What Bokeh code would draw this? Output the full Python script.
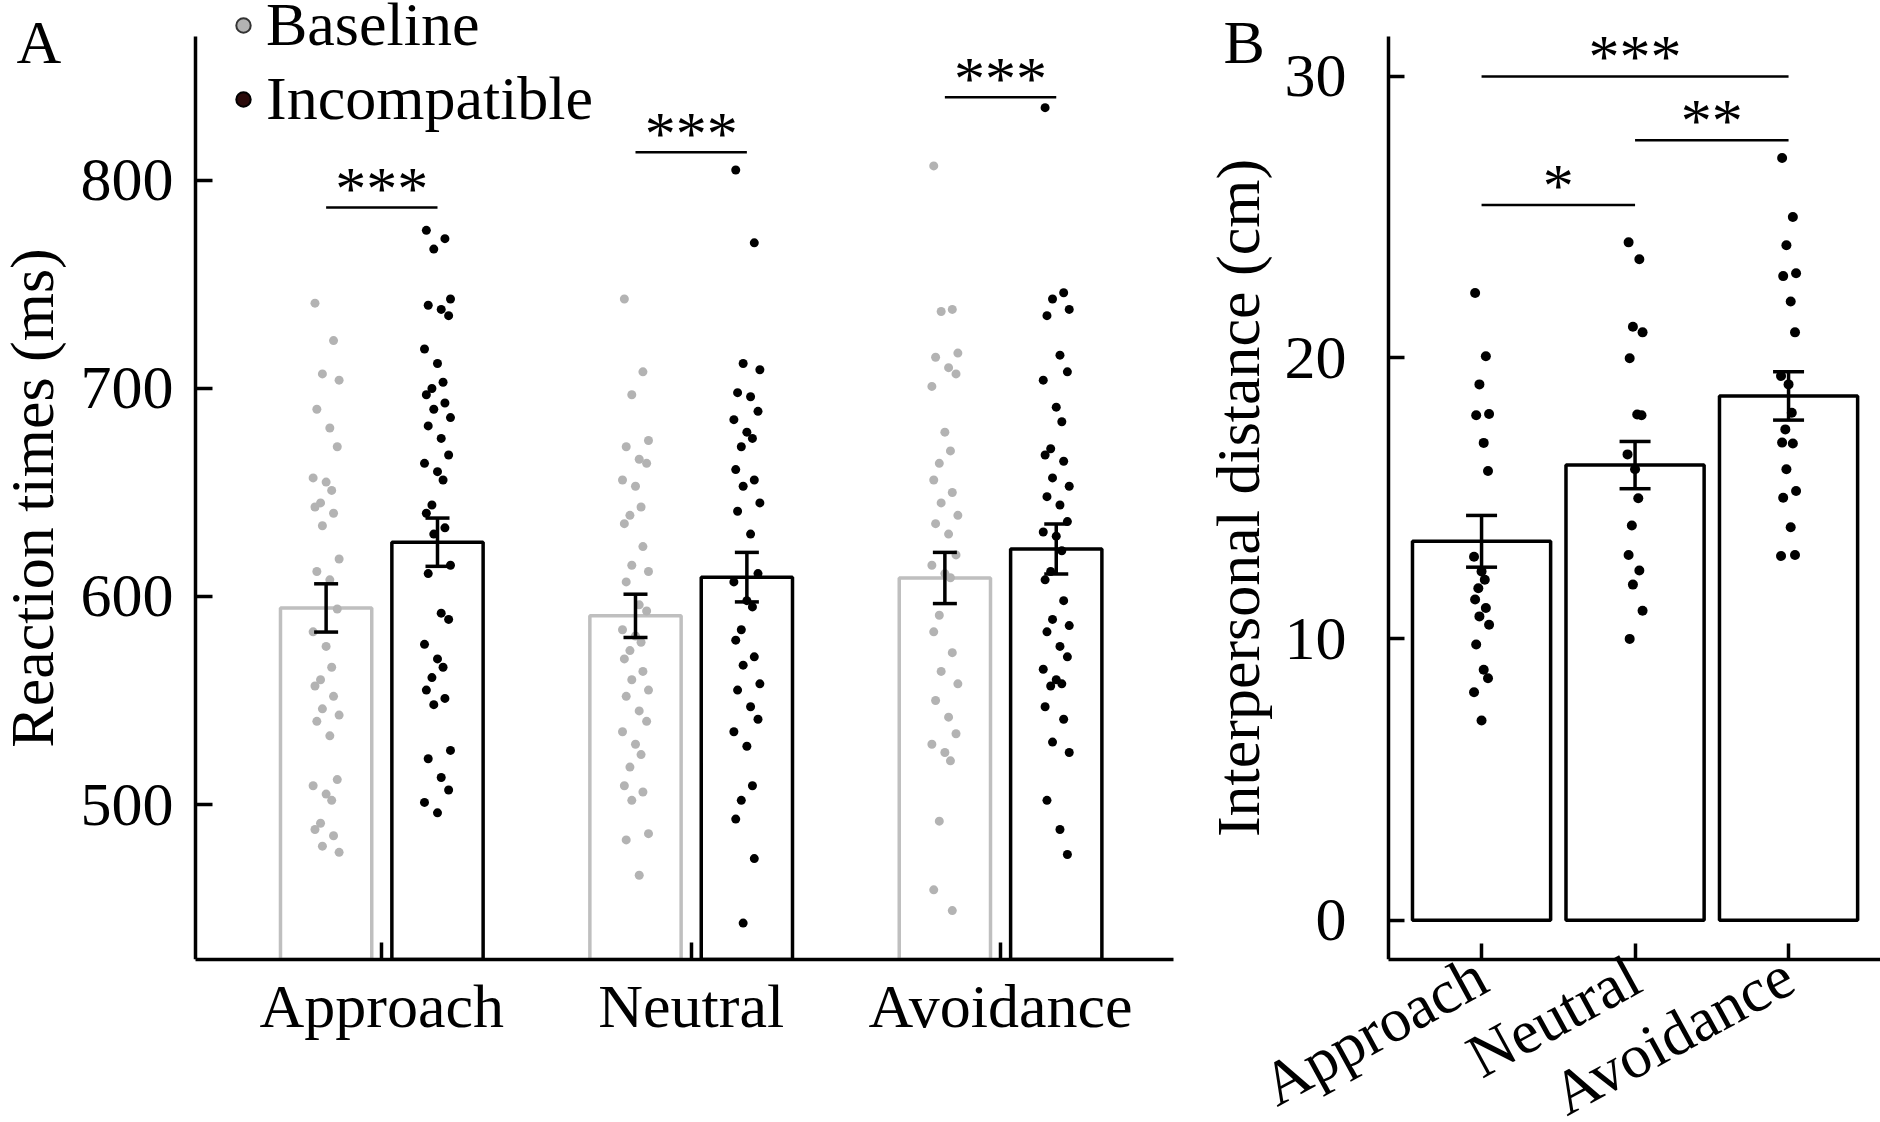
import numpy as np
from bokeh.plotting import figure
from bokeh.layouts import row
from bokeh.models import (ColumnDataSource, Range1d, FixedTicker, Whisker, TeeHead,
                          Legend, LegendItem, LinearAxis)
from bokeh.core.properties import value
from bokeh.embed import file_html
from bokeh.resources import INLINE

FONT = "Liberation Serif"
FS = "62px"

# ---- data -------------------------------------------------------------
conditions = ["Approach", "Neutral", "Avoidance"]

# panel A: reaction times (ms)
rt_base_mean = [594.5, 590.7, 608.9]
rt_base_sem = [11.6, 10.4, 12.3]
rt_inc_mean = [626.1, 609.3, 622.8]
rt_inc_sem = [11.6, 11.9, 12.0]

rt_base_approach = [741, 723, 707, 704, 690, 681, 672, 657, 655, 651, 645, 643, 640, 634,
                    618, 612, 608, 594, 583, 576, 566, 560, 557, 552, 546, 543, 540, 533,
                    512, 509, 505, 502, 491, 488, 485, 480, 477]
rt_base_neutral = [743, 708, 697, 675, 672, 666, 664, 656, 653, 643, 639, 635, 624, 615,
                   612, 607, 596, 593, 584, 581, 578, 574, 570, 564, 560, 555, 552, 545,
                   540, 535, 529, 524, 518, 509, 506, 502, 486, 483, 466]
rt_base_avoid = [807, 738, 737, 717, 715, 710, 707, 701, 679, 670, 664, 656, 650, 645,
                 639, 635, 630, 620, 615, 611, 609, 591, 583, 573, 564, 558, 550, 542,
                 534, 529, 525, 521, 492, 459, 449]
rt_inc_approach = [776, 772, 767, 743, 740, 738, 735, 719, 712, 703, 700, 697, 693, 690,
                   686, 682, 676, 668, 664, 660, 656, 644, 640, 633, 630, 615, 611, 592,
                   589, 577, 570, 566, 561, 555, 551, 548, 526, 522, 513, 507, 501, 496]
rt_inc_neutral = [805, 770, 712, 709, 698, 696, 689, 685, 679, 676, 672, 661, 656, 653,
                  645, 641, 630, 611, 607, 598, 595, 584, 579, 571, 567, 558, 555, 547,
                  541, 535, 528, 509, 502, 493, 474, 443]
rt_inc_avoid = [835, 746, 743, 738, 735, 716, 708, 704, 691, 684, 671, 668, 665, 657,
                653, 648, 644, 636, 631, 629, 622, 612, 608, 598, 589, 586, 583, 576,
                571, 565, 560, 558, 557, 547, 541, 530, 525, 502, 488, 476]
rt_base_pts = [rt_base_approach, rt_base_neutral, rt_base_avoid]
rt_inc_pts = [rt_inc_approach, rt_inc_neutral, rt_inc_avoid]

sig_a_y = [787, 813.5, 840]
sig_a_txt = ["***", "***", "***"]

# panel B: interpersonal distance (cm)
dist_mean = [13.47, 16.18, 18.64]
dist_sem = [0.92, 0.84, 0.86]
dist_approach = [22.3, 20.05, 19.05, 18.0, 17.95, 16.97, 15.97, 12.92, 12.4, 12.1,
                 11.8, 11.4, 11.1, 10.8, 10.5, 9.8, 8.9, 8.6, 8.1, 7.1]
dist_neutral = [24.1, 23.5, 21.1, 20.9, 19.98, 17.98, 17.95, 16.56, 16.03, 15.0,
                14.03, 12.98, 12.43, 11.93, 11.0, 10.0]
dist_avoid = [27.1, 25.0, 24.0, 23.0, 22.9, 22.0, 20.9, 19.35, 19.05, 18.04, 17.45,
              16.98, 16.95, 16.03, 15.26, 15.02, 13.97, 12.98, 12.95]
dist_pts = [dist_approach, dist_neutral, dist_avoid]

sig_b_pairs = [(0, 1), (1, 2), (0, 2)]
sig_b_y = [25.43, 27.73, 30.0]
sig_b_txt = ["*", "**", "***"]

# ---- helpers ----------------------------------------------------------
JITTER = [-0.03, 0.02, -0.01, 0.035, -0.025, 0.01, 0.03, -0.035, 0.0, 0.015, -0.015]
GRAY = "#b3b3b3"


def style_axes(p, tick_len):
    p.grid.visible = False
    p.outline_line_color = None
    for ax in (p.xaxis[0], p.yaxis[0]):
        ax.axis_line_width = 3.5
        ax.major_tick_line_width = 3.5
        ax.major_tick_in = tick_len
        ax.major_tick_out = 0
        ax.minor_tick_line_color = None
        ax.major_label_text_font = FONT
        ax.major_label_text_font_size = FS
        ax.major_label_text_color = "black"
        ax.axis_label_text_font = FONT
        ax.axis_label_text_font_size = FS
        ax.axis_label_text_font_style = "normal"
        ax.axis_label_text_color = "black"


def jittered(center, n, scale):
    return [center + JITTER[i % len(JITTER)] * scale for i in range(n)]


def sig_marks(p, x0, x1, y, txt, yoff):
    p.segment(x0=x0, y0=y, x1=x1, y1=y, line_color="black", line_width=2.5)
    p.text(x=[(a + b) / 2 for a, b in zip(x0, x1)], y=y, text=txt,
           text_font=value(FONT), text_font_size=FS, text_align="center",
           text_baseline="alphabetic", y_offset=yoff, text_color="black")


def one_item_legend(p, label, renderer, loc):
    leg = Legend(items=[LegendItem(label=label, renderers=[renderer], index=0)],
                 location=loc, orientation="vertical", border_line_color=None,
                 background_fill_alpha=0, padding=0, margin=0, spacing=0,
                 glyph_width=36, glyph_height=66, label_height=66,
                 label_standoff=5, label_text_font=FONT,
                 label_text_font_size=FS, label_text_color="black",
                 label_text_baseline="middle")
    p.add_layout(leg)


# ---- panel A ----------------------------------------------------------
# the frame covers the whole upper-left area; the y axis sits at a fixed location
xa_lo, xa_hi = 0.398, 3.559
ya_lo, ya_hi = 425.5, 869.2
pa = figure(frame_width=1173, frame_height=959, min_border_left=0, min_border_right=27,
            min_border_top=0, min_border_bottom=163,
            x_range=Range1d(-0.2325, xa_hi), y_range=Range1d(ya_lo, 886.5),
            y_axis_location=None, output_backend="svg", toolbar_location=None)
ya = LinearAxis(fixed_location=xa_lo, bounds=(ya_lo, ya_hi))
pa.add_layout(ya, "left")
style_axes(pa, 17)
ya.axis_label = "Reaction times (ms)"
ya.ticker = FixedTicker(ticks=[500, 600, 700, 800], minor_ticks=[])
ya.major_label_standoff = 22
ya.axis_label_standoff = 12
pa.xaxis.bounds = (xa_lo, xa_hi)
pa.xaxis.ticker = FixedTicker(ticks=[1, 2, 3], minor_ticks=[])
pa.xaxis.major_label_overrides = {1: conditions[0], 2: conditions[1], 3: conditions[2]}
pa.xaxis.major_label_standoff = 12

groups = [1, 2, 3]
xb = [g - 0.18 for g in groups]
xi = [g + 0.18 for g in groups]

pa.vbar(x=xb, top=rt_base_mean, bottom=0, width=0.295, fill_color="white",
        line_color="#bfbfbf", line_width=3.5)
pa.vbar(x=xi, top=rt_inc_mean, bottom=0, width=0.295, fill_color="white",
        line_color="black", line_width=3.5)

for k in range(3):
    pa.scatter(jittered(xb[k], len(rt_base_pts[k]), 1.2), rt_base_pts[k],
               size=9, fill_color=GRAY, line_color=None)
    pa.scatter(jittered(xi[k], len(rt_inc_pts[k]), 1.2), rt_inc_pts[k],
               size=9, fill_color="black", line_color=None)

err_a = ColumnDataSource(dict(
    x=xb + xi,
    upper=[m + s for m, s in zip(rt_base_mean + rt_inc_mean, rt_base_sem + rt_inc_sem)],
    lower=[m - s for m, s in zip(rt_base_mean + rt_inc_mean, rt_base_sem + rt_inc_sem)],
))
pa.add_layout(Whisker(source=err_a, base="x", upper="upper", lower="lower",
                      line_width=3.5, line_color="black", level="annotation",
                      upper_head=TeeHead(size=24, line_width=3.5, line_color="black"),
                      lower_head=TeeHead(size=24, line_width=3.5, line_color="black")))

sig_marks(pa, xb, xi, sig_a_y, sig_a_txt, -19)

# legend-only markers (no visible point in the plot)
nan_src = dict(x=np.array([np.nan]), y=np.array([np.nan]))
leg_base = pa.scatter("x", "y", source=ColumnDataSource(nan_src), size=14,
                      fill_color=GRAY, line_color="#333333", line_width=2)
leg_inc = pa.scatter("x", "y", source=ColumnDataSource(nan_src), size=14,
                     fill_color="#2a0a0a", line_color="black", line_width=2)
one_item_legend(pa, "Baseline", leg_base, (225, 899))
one_item_legend(pa, "Incompatible", leg_inc, (225, 825))

pa.text(x=[-0.181], y=[854.8], text=["A"], text_font=value(FONT), text_font_size=FS,
        text_align="left", text_baseline="alphabetic", y_offset=-24, text_color="black")

# ---- panel B ----------------------------------------------------------
xb_lo, xb_hi = 0.394, 3.599
yb_lo, yb_hi = -1.40, 31.42
pb = figure(frame_width=680, frame_height=959, min_border_left=0, min_border_right=0,
            min_border_top=0, min_border_bottom=163,
            x_range=Range1d(-0.831, xb_hi), y_range=Range1d(yb_lo, 32.70),
            y_axis_location=None, output_backend="svg", toolbar_location=None)
yb = LinearAxis(fixed_location=xb_lo, bounds=(yb_lo, yb_hi))
pb.add_layout(yb, "left")
style_axes(pb, 16)
yb.axis_label = "Interpersonal distance (cm)"
yb.ticker = FixedTicker(ticks=[0, 10, 20, 30], minor_ticks=[])
yb.major_label_standoff = 42
yb.axis_label_standoff = 10
pb.xaxis.bounds = (xb_lo, xb_hi)
pb.xaxis.ticker = FixedTicker(ticks=[1, 2, 3], minor_ticks=[])
pb.xaxis.major_label_overrides = {1: conditions[0], 2: conditions[1], 3: conditions[2]}
pb.xaxis.major_label_orientation = 0.5
pb.xaxis.major_label_standoff = 12

pb.vbar(x=groups, top=dist_mean, bottom=0, width=0.9, fill_color="white",
        line_color="black", line_width=3.5)
for k in range(3):
    pb.scatter(jittered(groups[k], len(dist_pts[k]), 1.4), dist_pts[k],
               size=10, fill_color="black", line_color=None)

err_b = ColumnDataSource(dict(
    x=groups,
    upper=[m + s for m, s in zip(dist_mean, dist_sem)],
    lower=[m - s for m, s in zip(dist_mean, dist_sem)],
))
pb.add_layout(Whisker(source=err_b, base="x", upper="upper", lower="lower",
                      line_width=3.5, line_color="black", level="annotation",
                      upper_head=TeeHead(size=31, line_width=3.5, line_color="black"),
                      lower_head=TeeHead(size=31, line_width=3.5, line_color="black")))

sig_marks(pb, [groups[a] for a, b in sig_b_pairs], [groups[b] for a, b in sig_b_pairs],
          sig_b_y, sig_b_txt, -20)

pb.text(x=[-0.681], y=[30.38], text=["B"], text_font=value(FONT), text_font_size=FS,
        text_align="left", text_baseline="alphabetic", y_offset=-24, text_color="black")

layout = row(pa, pb)
open("out.html", "w").write(file_html(layout, INLINE))
